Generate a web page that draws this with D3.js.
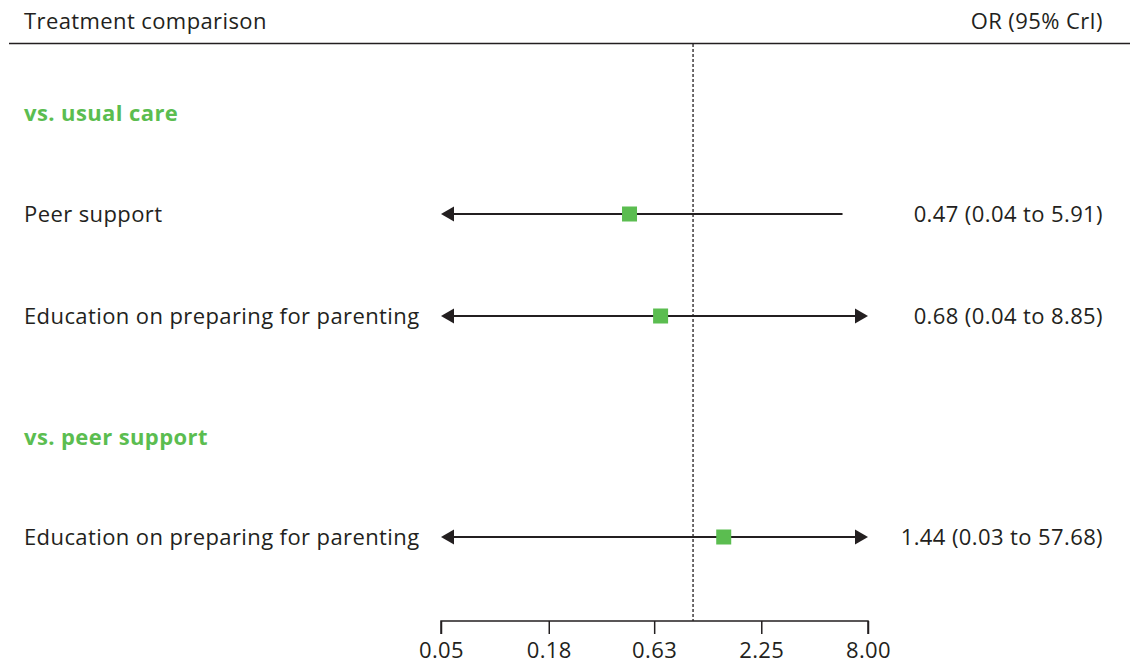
<!DOCTYPE html>
<html><head><meta charset="utf-8">
<script src="https://cdn.jsdelivr.net/npm/d3@7"></script>
<style>
body{margin:0;background:#fff;}
text{font-family:"Open Sans","Noto Sans",sans-serif;fill:#231f20;letter-spacing:0.4px;}
</style></head>
<body><svg id="c" width="1130" height="666"></svg>
<script>
const groups = ["vs. usual care", "vs. peer support"];
const rowLabels = ["Peer support", "Education on preparing for parenting", "Education on preparing for parenting"];
const orValues = [0.47, 0.68, 1.44];
const lowerValues = [0.04, 0.04, 0.03];
const upperValues = [5.91, 8.85, 57.68];
const tickValues = [0.05, 0.18, 0.63, 2.25, 8.00];
const headerLeft = "Treatment comparison";
const headerRight = "OR (95% CrI)";

const svg = d3.select("#c");
const ink = "#231f20", green = "#5bbd50";
const FS = 22;
const x = d3.scaleLog().domain([0.05, 8]).range([441, 868]);
const yMap = {g0:113, r0:214, r1:316, g1:437, r2:537};

svg.append("text").attr("x",24).attr("y",29).attr("font-size",FS).text(headerLeft);
svg.append("text").attr("x",1103).attr("y",29).attr("font-size",FS).attr("text-anchor","end").text(headerRight);
svg.append("line").attr("x1",9).attr("x2",1130).attr("y1",43.5).attr("y2",43.5).attr("stroke",ink).attr("stroke-width",1.5);

// reference line at OR = 1
svg.append("line").attr("x1",x(1)).attr("x2",x(1)).attr("y1",44).attr("y2",621)
  .attr("stroke",ink).attr("stroke-width",1.3).attr("stroke-dasharray","3,2");

groups.forEach((g,i)=>{
  svg.append("text").attr("x",24).attr("y",yMap["g"+i]).attr("dy","0.35em")
    .attr("font-size",FS).attr("font-weight",700).style("fill",green).text(g);
});

const [dmin, dmax] = x.domain();
rowLabels.forEach((lab,i)=>{
  const y = yMap["r"+i];
  svg.append("text").attr("x",24).attr("y",y).attr("dy","0.35em").attr("font-size",FS).text(lab);
  const lo = Math.max(lowerValues[i], dmin), hi = Math.min(upperValues[i], dmax);
  const x1 = x(lo), x2 = x(hi);
  const leftArrow = lowerValues[i] < dmin, rightArrow = upperValues[i] > dmax;
  svg.append("line").attr("x1", leftArrow? x1+8 : x1).attr("x2", rightArrow? x2-8 : x2)
    .attr("y1",y).attr("y2",y).attr("stroke",ink).attr("stroke-width",2);
  if (leftArrow) svg.append("path").attr("d",`M${x1},${y}L${x1+13},${y-7.5}L${x1+13},${y+7.5}Z`).attr("fill",ink);
  if (rightArrow) svg.append("path").attr("d",`M${x2},${y}L${x2-13},${y-7.5}L${x2-13},${y+7.5}Z`).attr("fill",ink);
  const s = 15;
  svg.append("rect").attr("x",x(orValues[i])-s/2).attr("y",y-s/2).attr("width",s).attr("height",s).attr("fill",green);
  svg.append("text").attr("x",1103).attr("y",y).attr("dy","0.35em").attr("font-size",FS).attr("text-anchor","end")
    .text(`${orValues[i].toFixed(2)} (${lowerValues[i].toFixed(2)} to ${upperValues[i].toFixed(2)})`);
});

const axis = d3.axisBottom(x).tickValues(tickValues).tickFormat(d3.format(".2f")).tickSize(13).tickPadding(8);
const ag = svg.append("g").attr("transform","translate(0,621)").call(axis);
ag.select(".domain").attr("stroke",ink).attr("stroke-width",1.5).attr("d","M441,13V0H868V13");
ag.selectAll(".tick line").attr("stroke",ink).attr("stroke-width",1.5);
ag.selectAll(".tick text").attr("font-size",FS).style("fill",ink).attr("font-family","'Open Sans','Noto Sans',sans-serif");
</script></body></html>
